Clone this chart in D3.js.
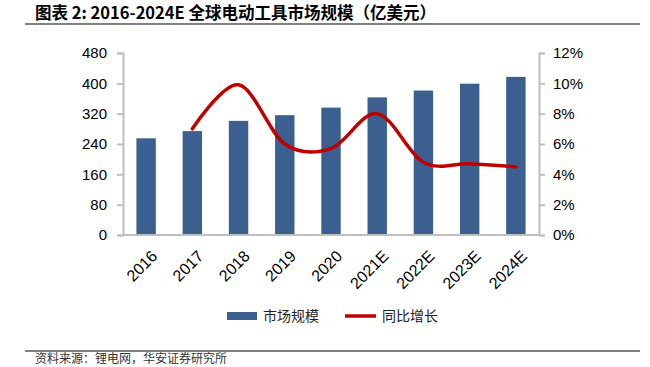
<!DOCTYPE html>
<html><head><meta charset="utf-8">
<script src="https://cdn.jsdelivr.net/npm/d3@7"></script>
<style>
html,body{margin:0;padding:0;background:#fff;}
svg{display:block;font-family:Arial,"Liberation Sans",sans-serif;}
</style></head>
<body><svg id="c" width="650" height="367"></svg>
<script>
const categories = ["2016","2017","2018","2019","2020","2021E","2022E","2023E","2024E"];
const marketSize = [255, 274, 301, 316, 336, 363, 381, 399, 417];
const growthCats = ["2017","2018","2019","2020","2021E","2022E","2023E","2024E"];
const growth = [0.070, 0.099, 0.060, 0.057, 0.080, 0.048, 0.047, 0.045];
const leftTicks = [0, 80, 160, 240, 320, 400, 480];
const rightTicks = [0, 0.02, 0.04, 0.06, 0.08, 0.10, 0.12];
const titleText = "图表 2:  2016-2024E 全球电动工具市场规模（亿美元）";
const sourceText = "资料来源：锂电网，华安证券研究所";
const legendLabels = ["市场规模", "同比增长"];

const svg = d3.select("#c");
const L = 123, R = 539, T = 53, B = 235;
const cjk = '"Noto Sans CJK SC",sans-serif';

const x = d3.scaleBand().domain(categories).range([L, R]).paddingInner(0.58).paddingOuter(0.29);
const y = d3.scaleLinear().domain([0, 480]).range([B, T]);
const y2 = d3.scaleLinear().domain([0, 0.12]).range([B, T]);

// title
svg.append("text").attr("x", 35).attr("y", 19).attr("font-size", 16.5).attr("font-weight", "bold")
  .attr("font-family", '"Noto Sans CJK SC",Arial,sans-serif').attr("fill", "#000").text(titleText);
svg.append("line").attr("x1", 25).attr("x2", 640).attr("y1", 24).attr("y2", 24).attr("stroke", "#808080").attr("stroke-width", 2);

// bars
svg.append("g").selectAll("rect").data(categories).join("rect")
  .attr("x", d => x(d)).attr("width", x.bandwidth())
  .attr("y", (d, i) => y(marketSize[i])).attr("height", (d, i) => B - y(marketSize[i]))
  .attr("fill", "#3b608f");

// axes
const axisColor = "#bfbfbf";
const gl = svg.append("g").attr("transform", `translate(${L},0)`)
  .call(d3.axisLeft(y).tickValues(leftTicks).tickSize(6).tickPadding(10).tickSizeOuter(6));
const gr = svg.append("g").attr("transform", `translate(${R},0)`)
  .call(d3.axisRight(y2).tickValues(rightTicks).tickFormat(d3.format(".0%")).tickSize(6).tickPadding(8).tickSizeOuter(6));
const gx = svg.append("g").attr("transform", `translate(0,${B})`)
  .call(d3.axisBottom(x).tickSize(0).tickPadding(6));
[gl, gr, gx].forEach(g => {
  g.selectAll("path,line").attr("stroke", axisColor).attr("stroke-width", 2);
  g.selectAll("text").attr("font-size", 15).attr("fill", "#000").attr("font-family", "Arial,'Liberation Sans',sans-serif");
});
gx.select(".domain").attr("d", `M${L},0H${R}`);
gx.selectAll("text").attr("font-size", 16).attr("text-anchor", "end").attr("dy", "0.35em")
  .attr("transform", "translate(4,14) rotate(-45)");

// line
const line = d3.line().x((d, i) => x(growthCats[i]) + x.bandwidth() / 2).y(d => y2(d))
  .curve(d3.curveCardinal.tension(0));
svg.append("path").datum(growth).attr("d", line).attr("fill", "none")
  .attr("stroke", "#c00000").attr("stroke-width", 3.5).attr("stroke-linecap", "round");

// legend
const lg = svg.append("g");
lg.append("rect").attr("x", 227).attr("y", 312).attr("width", 30).attr("height", 8).attr("fill", "#3b608f");
lg.append("text").attr("x", 263).attr("y", 321).attr("font-size", 14).attr("font-family", cjk).attr("fill", "#222").text(legendLabels[0]);
lg.append("line").attr("x1", 345).attr("x2", 376).attr("y1", 316).attr("y2", 316).attr("stroke", "#c00000").attr("stroke-width", 3.5);
lg.append("text").attr("x", 382).attr("y", 321).attr("font-size", 14).attr("font-family", cjk).attr("fill", "#222").text(legendLabels[1]);

// footer
svg.append("line").attr("x1", 25).attr("x2", 640).attr("y1", 351).attr("y2", 351).attr("stroke", "#808080").attr("stroke-width", 2);
svg.append("text").attr("x", 35).attr("y", 363).attr("font-size", 12).attr("font-family", cjk).attr("fill", "#333").text(sourceText);
</script></body></html>
